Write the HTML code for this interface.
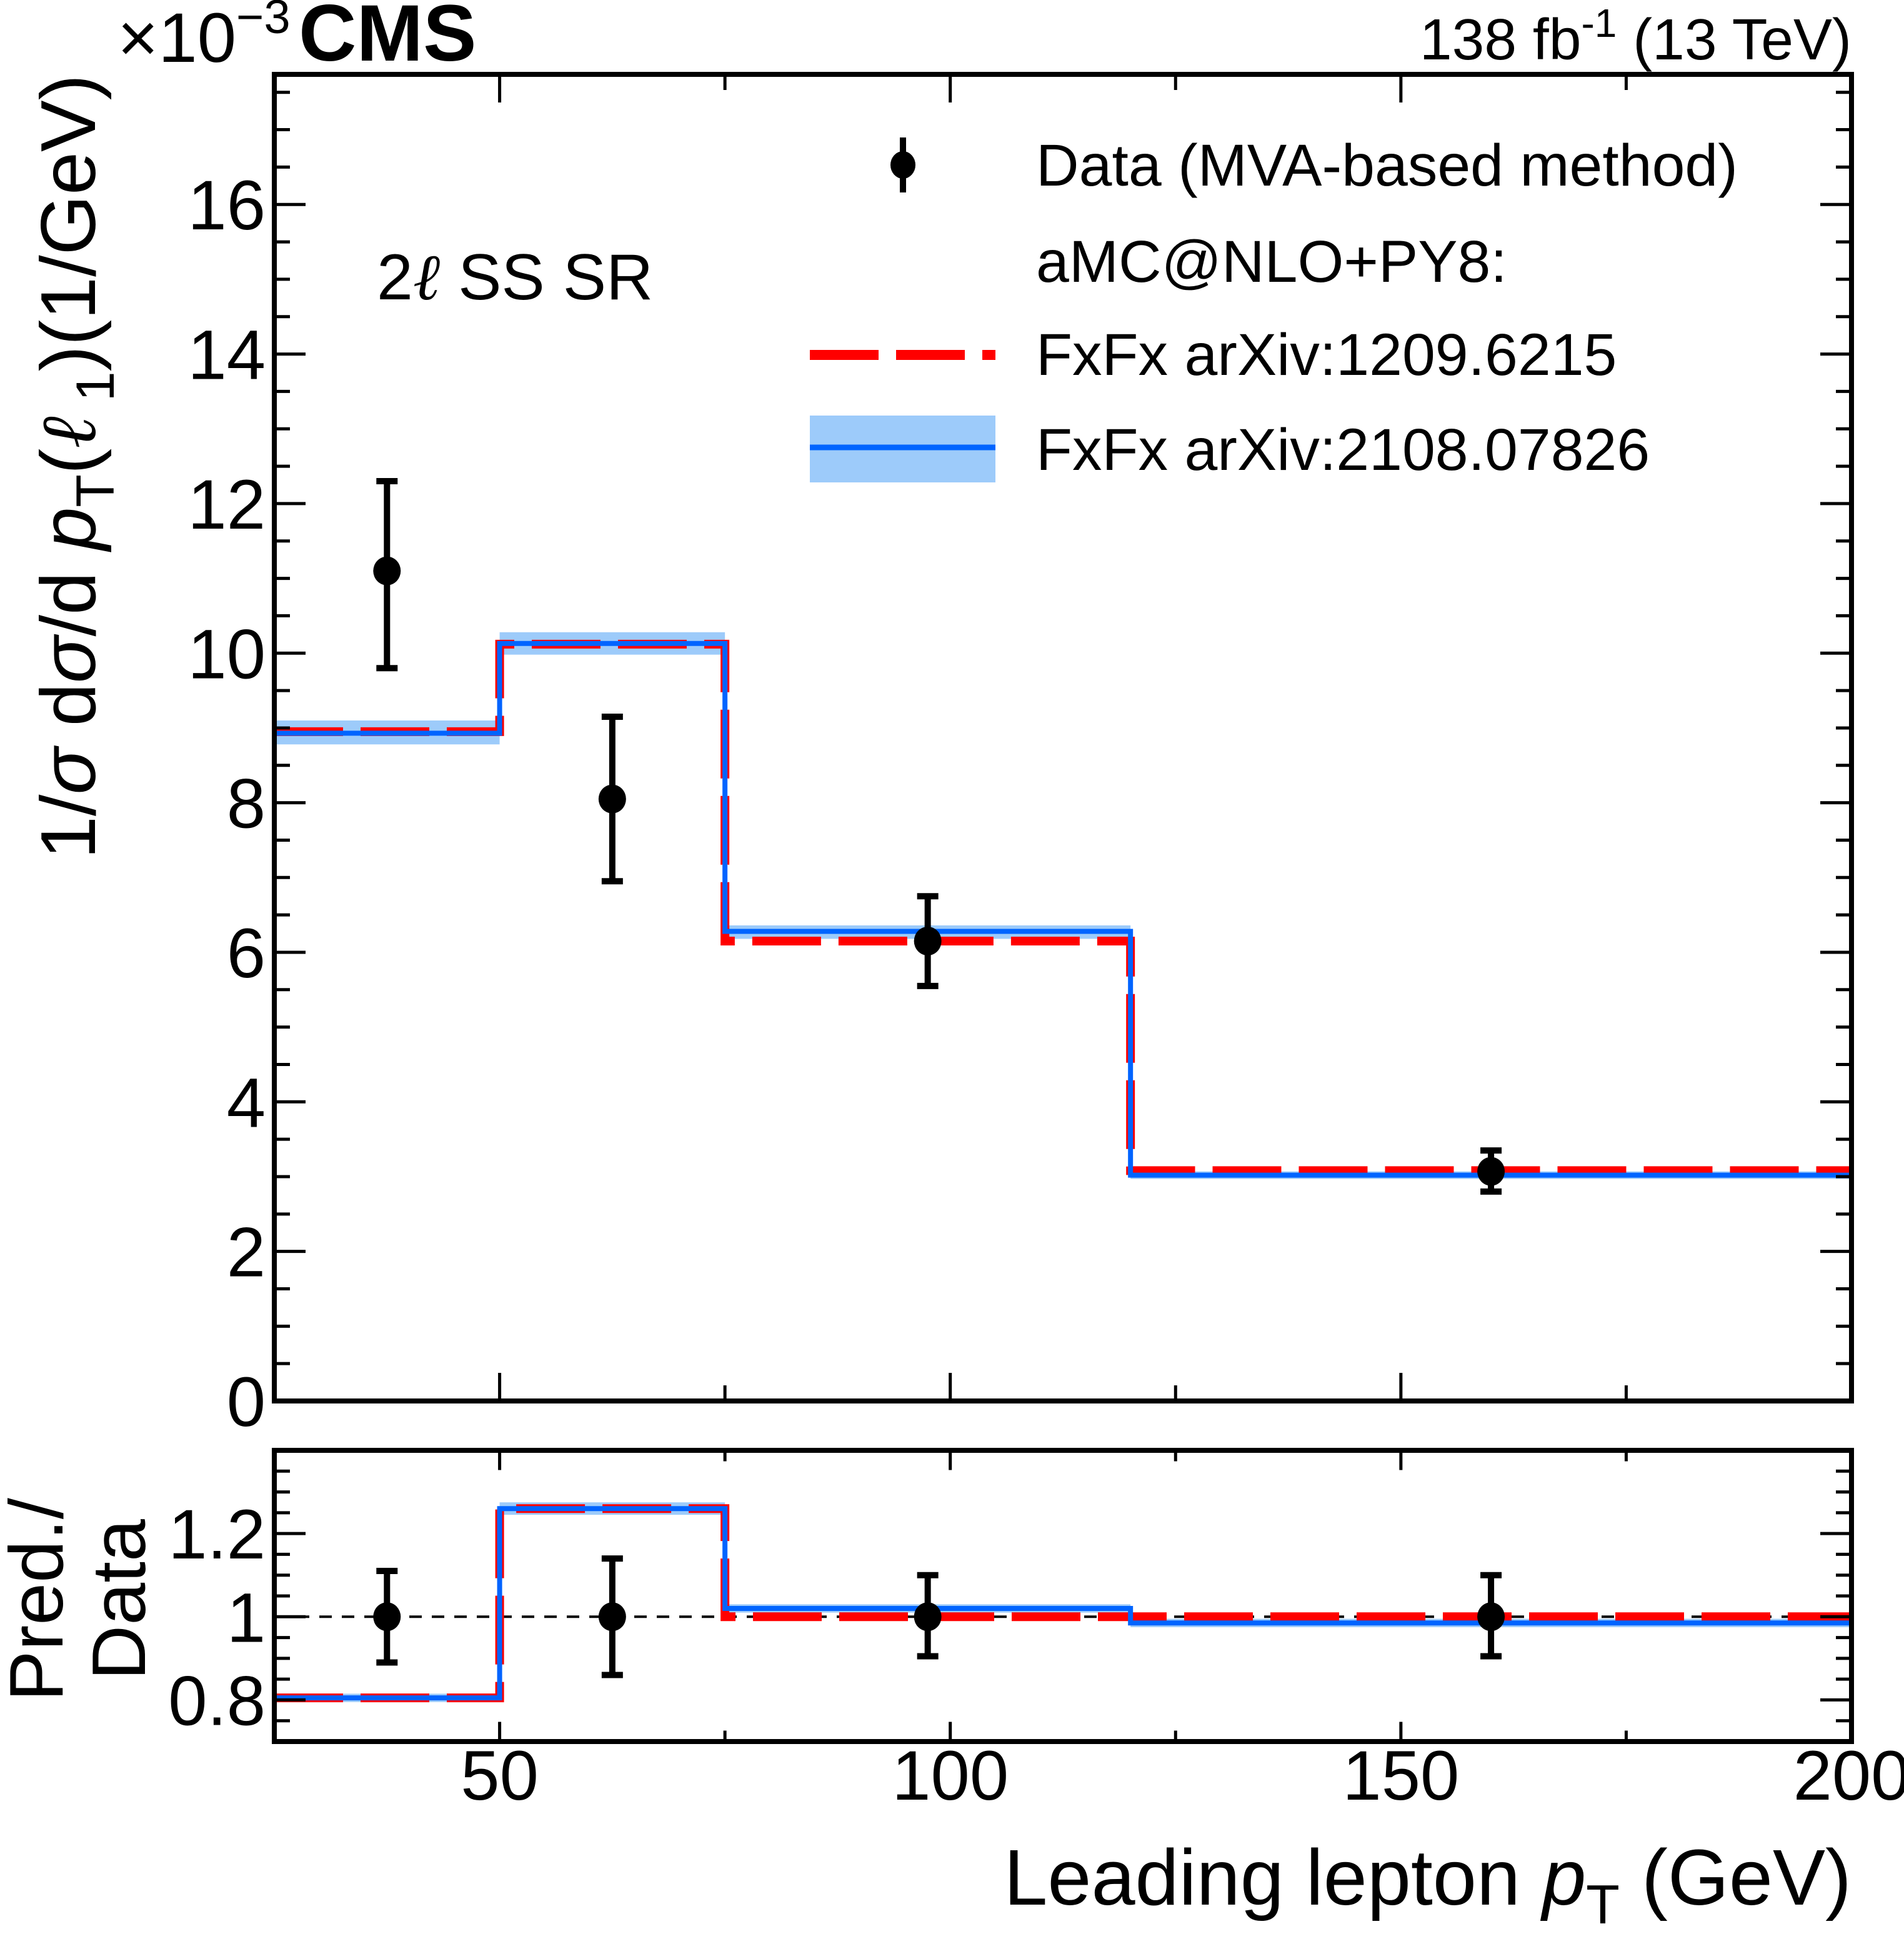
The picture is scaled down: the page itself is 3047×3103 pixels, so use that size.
<!DOCTYPE html>
<html><head><meta charset="utf-8">
<style>
html,body{margin:0;padding:0;background:#fff;}
svg{display:block;font-family:"Liberation Sans",Arial,sans-serif;}
</style></head>
<body>
<svg id="chart" width="3047" height="3103" viewBox="0 0 3047 3103" xmlns="http://www.w3.org/2000/svg">
<g id="main"></g>
<g id="ratio"></g>
<g id="texts">
  <text x="188" y="99" font-size="112">×10<tspan dy="-46" font-size="76">−3</tspan></text>
  <text x="478" y="97" font-size="128" font-weight="bold">CMS</text>
  <text x="2963" y="95" font-size="93" text-anchor="end">138 fb<tspan dy="-36" font-size="64">-1</tspan><tspan dy="36"> (13 TeV)</tspan></text>
  <text x="603" y="479" font-size="104">2<tspan font-family="DejaVu Serif" font-style="italic">ℓ</tspan> SS SR</text>
  <text x="2963" y="3048" font-size="126" text-anchor="end">Leading lepton <tspan font-style="italic">p</tspan><tspan dy="30" font-size="88">T</tspan><tspan dy="-30"> (GeV)</tspan></text>
  <text transform="translate(152,119) rotate(-90)" font-size="124" text-anchor="end">1/<tspan font-style="italic">σ</tspan> d<tspan font-style="italic">σ</tspan>/d <tspan font-style="italic">p</tspan><tspan dy="30" font-size="86">T</tspan><tspan dy="-30">(</tspan><tspan font-style="italic" font-family="DejaVu Serif">ℓ</tspan><tspan dy="30" font-size="86"> 1</tspan><tspan dy="-30">)(1/GeV)</tspan></text>
  <text transform="translate(100,2560) rotate(-90)" font-size="122" text-anchor="middle">Pred./</text>
  <text transform="translate(232,2560) rotate(-90)" font-size="122" text-anchor="middle">Data</text>
</g>
<g id="legend">
  <line x1="1445" y1="220" x2="1445" y2="308" stroke="#000" stroke-width="10"/>
  <ellipse cx="1445" cy="264" rx="20" ry="22" fill="#000"/>
  <text x="1658" y="297" font-size="95">Data (MVA-based method)</text>
  <text x="1658" y="451" font-size="95">aMC@NLO+PY8:</text>
  <line x1="1296" y1="568" x2="1593" y2="568" stroke="#ff0000" stroke-width="16" stroke-dasharray="110 28"/>
  <text x="1658" y="600" font-size="95">FxFx arXiv:1209.6215</text>
  <rect x="1296" y="665" width="297" height="107" fill="#9dcbfa"/>
  <line x1="1296" y1="716" x2="1593" y2="716" stroke="#0064ff" stroke-width="9"/>
  <text x="1658" y="752" font-size="95">FxFx arXiv:2108.07826</text>
</g>
</svg>
<script>
const binEdges = [25, 50, 75, 120, 200];
const dataX = [37.5, 62.5, 97.5, 160];
const dataY = [11.1, 8.05, 6.15, 3.07];
const dataErrLo = [9.8, 6.95, 5.55, 2.8];
const dataErrHi = [12.3, 9.15, 6.75, 3.35];
const redPred = [8.95, 10.12, 6.15, 3.08];
const bluePred = [8.93, 10.13, 6.28, 3.02];
const blueBandLo = [8.78, 9.98, 6.18, 2.97];
const blueBandHi = [9.1, 10.28, 6.36, 3.07];
const ratioDataErrLo = [0.89, 0.86, 0.905, 0.905];
const ratioDataErrHi = [1.11, 1.14, 1.1, 1.1];
const ratioRed = [0.805, 1.26, 1.0, 1.0];
const ratioBlue = [0.805, 1.26, 1.02, 0.985];
const ratioBandLo = [0.795, 1.245, 1.01, 0.975];
const ratioBandHi = [0.815, 1.275, 1.03, 0.995];
const xTickLabels = [50, 100, 150, 200];
const yTickLabels = [0, 2, 4, 6, 8, 10, 12, 14, 16];
const ratioTickLabels = [0.8, 1, 1.2];

const NS = "http://www.w3.org/2000/svg";
const L = 439, R = 2963, MT = 119, MB = 2242, RT = 2321, RB = 2787;
const X0 = 25, X1 = 200, YMAX = 17.74, RMIN = 0.7, RMAX = 1.4;
const xs = v => L + (v - X0) / (X1 - X0) * (R - L);
const ym = v => MB - v / YMAX * (MB - MT);
const yr = v => RB - (v - RMIN) / (RMAX - RMIN) * (RB - RT);

function mk(parent, tag, attrs) {
  const e = document.createElementNS(NS, tag);
  for (const k in attrs) e.setAttribute(k, attrs[k]);
  parent.appendChild(e);
  return e;
}
function stepPath(vals, yf) {
  let d = "";
  for (let i = 0; i < vals.length; i++) {
    const x0 = xs(binEdges[i]), x1 = xs(binEdges[i + 1]), y = yf(vals[i]);
    d += (i === 0 ? "M" : "L") + x0 + "," + y + " L" + x1 + "," + y + " ";
  }
  return d;
}

function drawPanel(g, top, bottom, yf, predRed, predBlue, bandLo, bandHi, ptY, errLo, errHi, yMajor, yMinorStep, yMinorMin, yMinorMax, isRatio) {
  for (let i = 0; i < bandLo.length; i++) {
    const b = mk(g, "rect", {x: xs(binEdges[i]), y: yf(bandHi[i]), width: xs(binEdges[i+1]) - xs(binEdges[i]), height: yf(bandLo[i]) - yf(bandHi[i]), fill: "#9dcbfa"});
    
    
  }
  if (isRatio) {
    const u = mk(g, "line", {x1: L, x2: R, y1: yf(1), y2: yf(1), stroke: "#000", "stroke-width": 4, "stroke-dasharray": "20 16"});
    
    
  }
  const pr = mk(g, "path", {d: stepPath(predRed, yf), fill: "none", stroke: "#ff0000", "stroke-width": 14, "stroke-dasharray": "110 28"});
  
  
  const pb = mk(g, "path", {d: stepPath(predBlue, yf), fill: "none", stroke: "#0064ff", "stroke-width": 8});
  
  
  for (let i = 0; i < dataX.length; i++) {
    const x = xs(dataX[i]);
    const e = mk(g, "line", {x1: x, x2: x, y1: yf(errLo[i]), y2: yf(errHi[i]), stroke: "#000", "stroke-width": 10});
    
    
    for (const v of [errLo[i], errHi[i]]) {
      const c = mk(g, "line", {x1: x - 17, x2: x + 17, y1: yf(v), y2: yf(v), stroke: "#000", "stroke-width": 10});
      
      
    }
    const p = mk(g, "ellipse", {cx: x, cy: yf(ptY[i]), rx: 22, ry: 23, fill: "#000"});
    
    
  }
  for (let v = 25; v <= 200; v += 25) {
    if (v === 25 || v === 200) continue;
    const len = v % 50 === 0 ? 45 : 25;
    const h = isRatio ? len * 0.7 : len;
    for (const [ya, dir] of [[bottom, -1], [top, 1]]) {
      const t = mk(g, "line", {x1: xs(v), x2: xs(v), y1: ya, y2: ya + dir * h, stroke: "#000", "stroke-width": 5});
      
      
    }
  }
  for (let v = yMinorMin; v <= yMinorMax + 1e-9; v += yMinorStep) {
    const vv = Math.round(v * 1000) / 1000;
    const isMajor = yMajor.some(m => Math.abs(m - vv) < 1e-6);
    const len = isMajor ? 50 : 25;
    for (const [xa, dir] of [[L, 1], [R, -1]]) {
      const t = mk(g, "line", {x1: xa, x2: xa + dir * len, y1: yf(vv), y2: yf(vv), stroke: "#000", "stroke-width": 5});
      
      
    }
  }
  for (const v of yMajor) {
    const t = mk(g, "text", {x: 425, y: yf(v) + 40, "font-size": 112, "text-anchor": "end"});
    t.textContent = String(v);
    
    
  }
  const fr = mk(g, "rect", {x: L, y: top, width: R - L, height: bottom - top, fill: "none", stroke: "#000", "stroke-width": 8});
  
  
}

const gm = document.getElementById("main");
drawPanel(gm, MT, MB, ym, redPred, bluePred, blueBandLo, blueBandHi, dataY, dataErrLo, dataErrHi, yTickLabels, 0.5, 0, 17.5, false);
const gr = document.getElementById("ratio");
drawPanel(gr, RT, RB, yr, ratioRed, ratioBlue, ratioBandLo, ratioBandHi, dataX.map(() => 1), ratioDataErrLo, ratioDataErrHi, ratioTickLabels, 0.05, 0.7, 1.4, true);
for (const v of xTickLabels) {
  const t = mk(gr, "text", {x: xs(v), y: 2880, "font-size": 112, "text-anchor": "middle"});
  t.textContent = String(v);
  
  
}
</script>
</body></html>
